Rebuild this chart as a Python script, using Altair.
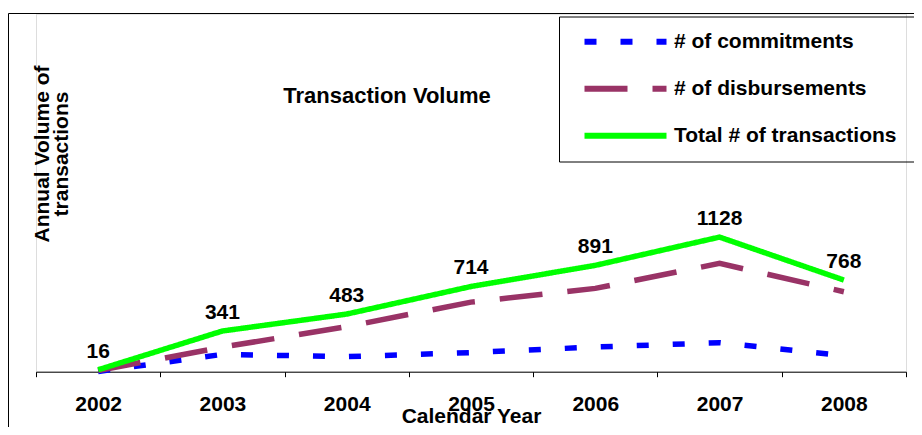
import altair as alt
import pandas as pd

years = ["2002", "2003", "2004", "2005", "2006", "2007", "2008"]
series_names = ["# of commitments", "# of disbursements", "Total # of transactions"]
commitments = [2, 145, 126, 160, 207, 243, 135]
disbursements = [10, 206, 377, 583, 698, 908, 670]
total = [16, 341, 483, 714, 891, 1128, 768]
colors = ["#0000FF", "#993366", "#00FF00"]
dashes = [[12, 24], [43, 25], [1, 0]]

rows = []
for name, vals in zip(series_names, [commitments, disbursements, total]):
    for yr, v in zip(years, vals):
        rows.append({"year": yr, "series": name, "value": v})
df = pd.DataFrame(rows)
tot_df = pd.DataFrame({"year": years, "value": total})
one = pd.DataFrame({"d": [0]})

FONT = "Liberation Sans"
FS = 21

x_axis = alt.Axis(
    title="Calendar Year", labelAngle=0, labelFont=FONT, labelFontSize=FS,
    labelFontWeight="bold", labelColor="black", labelPadding=16.7,
    tickSize=5, tickColor="black", domainColor="black", tickBand="extent",
    grid=False, titleFont=FONT, titleFontSize=FS, titleFontWeight="bold",
    titleColor="black", titleY=51, titleBaseline="alphabetic",
)
x_enc = alt.X("year:O", sort=years,
              scale=alt.Scale(type="band", paddingInner=0, paddingOuter=0),
              bandPosition=0.5, axis=x_axis)
y_enc = alt.Y("value:Q", scale=alt.Scale(domain=[0, 3000], nice=False, zero=True), axis=None)

leg = dict(
    title=None, orient="none", legendX=579, legendY=17.5,
    symbolType="M-8.2,0H8.2", symbolSize=100, symbolStrokeWidth=6,
    labelFont=FONT, labelFontSize=FS, labelFontWeight="bold", labelColor="black",
    labelOffset=38, rowPadding=22, padding=0, labelLimit=400,
)

lines = alt.Chart(df).mark_line(strokeWidth=5.5, strokeCap="butt").encode(
    x=x_enc,
    y=y_enc,
    color=alt.Color("series:N", sort=series_names,
                    scale=alt.Scale(domain=series_names, range=colors),
                    legend=alt.Legend(**leg)),
    strokeDash=alt.StrokeDash("series:N", sort=series_names,
                              scale=alt.Scale(domain=series_names, range=dashes),
                              legend=alt.Legend(**leg)),
)

labels = alt.Chart(tot_df).mark_text(
    dy=-12, baseline="alphabetic", align="center", font=FONT, fontSize=FS,
    fontWeight="bold", color="black",
).encode(x=x_enc, y=y_enc, text="value:Q")

base = alt.Chart(one)
rule_style = dict(color="black", strokeWidth=1)
frame_left = base.mark_rule(**rule_style).encode(x=alt.value(-27.5), y=alt.value(-0.2), y2=alt.value(420))
frame_top = base.mark_rule(**rule_style).encode(x=alt.value(-27.5), x2=alt.value(880), y=alt.value(-0.2))
box_left = base.mark_rule(**rule_style).encode(x=alt.value(523.5), y=alt.value(3.3), y2=alt.value(148.3))
box_top = base.mark_rule(**rule_style).encode(x=alt.value(523.5), x2=alt.value(880), y=alt.value(3.3))
box_bottom = base.mark_rule(**rule_style).encode(x=alt.value(523.5), x2=alt.value(880), y=alt.value(148.3))

title_txt = base.mark_text(
    align="center", baseline="alphabetic", font=FONT, fontSize=FS + 1, fontWeight="bold", color="black"
).encode(x=alt.value(351), y=alt.value(89.6), text=alt.value("Transaction Volume"))

ytitle = base.mark_text(
    angle=270, align="center", baseline="middle", lineBreak="\n", lineHeight=19,
    font=FONT, fontSize=FS, fontWeight="bold", color="black",
).encode(x=alt.value(7), y=alt.value(140.3), text=alt.value("Annual Volume of\ntransactions"))

chart = alt.layer(
    frame_left, frame_top, box_left, box_top, box_bottom,
    lines, labels, title_txt, ytitle,
).properties(
    width=870, height=358,
    padding={"left": 28, "top": 5.7, "right": 8, "bottom": 55.3},
    autosize=alt.AutoSizeParams(type="none"),
).configure_view(stroke=None).configure(background="white")

chart.save("out.html", embed_options={"renderer": "svg", "actions": False})
